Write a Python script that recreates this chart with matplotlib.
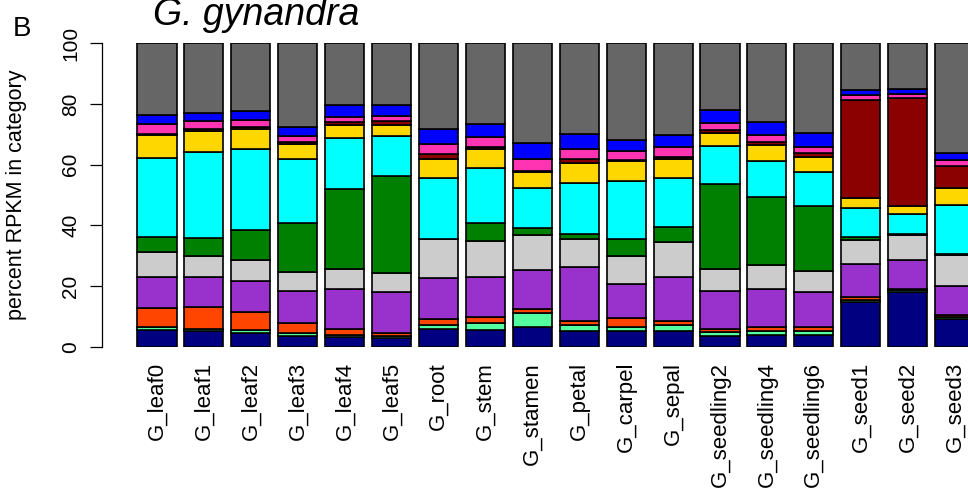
import matplotlib
matplotlib.use("Agg")
import matplotlib.pyplot as plt
import numpy as np

plt.rcParams["font.family"] = ["Liberation Sans", "DejaVu Sans"]

samples = ["G_leaf0", "G_leaf1", "G_leaf2", "G_leaf3", "G_leaf4", "G_leaf5",
           "G_root", "G_stem", "G_stamen", "G_petal", "G_carpel", "G_sepal",
           "G_seedling2", "G_seedling4", "G_seedling6", "G_seed1", "G_seed2", "G_seed3"]

# percent of RPKM per functional category, stacked bottom -> top
cat01 = [5.5, 5.1, 4.6, 3.4, 3.2, 2.9, 5.9, 5.5, 6.6, 5.3, 5.1, 5.1, 3.4, 4.0, 4.0, 14.6, 18.0, 9.2]
cat02 = [0.9, 0.7, 0.8, 1.0, 0.8, 0.7, 1.4, 2.3, 4.4, 2.0, 1.4, 1.9, 1.4, 1.3, 1.3, 0.7, 0.6, 0.5]
cat03 = [6.3, 7.4, 5.9, 3.4, 1.7, 0.8, 1.9, 2.0, 1.3, 1.3, 3.0, 1.4, 0.9, 1.3, 1.3, 1.0, 0.5, 0.6]
cat04 = [10.4, 9.8, 10.5, 10.7, 13.3, 13.6, 13.4, 13.3, 13.1, 17.7, 11.3, 14.7, 12.8, 12.3, 11.3, 11.0, 9.5, 9.8]
cat05 = [8.2, 6.9, 6.9, 6.0, 6.5, 6.4, 12.8, 11.6, 11.5, 9.3, 9.0, 11.5, 7.1, 7.9, 7.2, 7.9, 8.1, 10.2]
cat06 = [4.9, 5.9, 9.8, 16.4, 26.6, 31.9, 0.2, 6.1, 2.2, 1.5, 5.8, 4.9, 28.1, 22.5, 21.2, 1.0, 0.6, 0.4]
cat07 = [26.0, 28.4, 26.6, 20.9, 16.7, 13.2, 19.9, 18.0, 13.2, 17.0, 18.9, 16.2, 12.3, 12.0, 11.3, 9.5, 6.4, 16.1]
cat08 = [7.5, 7.0, 6.5, 5.0, 4.4, 3.5, 6.5, 6.5, 5.3, 6.4, 6.8, 6.1, 4.5, 5.3, 5.0, 3.3, 2.8, 5.5]
cat09 = [0.5, 0.6, 0.7, 0.8, 0.9, 1.3, 1.4, 0.6, 0.2, 1.5, 0.2, 0.6, 0.8, 0.8, 1.2, 32.3, 35.5, 7.4]
cat10 = [3.2, 2.5, 2.5, 1.9, 1.7, 1.6, 3.3, 3.3, 4.2, 3.3, 3.1, 3.3, 2.4, 2.3, 2.1, 1.6, 1.4, 1.7]
cat11 = [3.0, 2.8, 2.8, 2.9, 3.7, 3.9, 5.2, 4.3, 5.3, 4.8, 3.4, 4.2, 4.2, 4.4, 4.5, 1.8, 1.7, 2.3]
cat12 = [23.6, 22.9, 22.4, 27.6, 20.5, 20.2, 28.1, 26.5, 32.7, 29.9, 32.0, 30.1, 22.1, 25.9, 29.6, 15.3, 14.9, 36.3]

series = [cat01, cat02, cat03, cat04, cat05, cat06, cat07, cat08, cat09, cat10, cat11, cat12]
colors = ["#000080", "#54FF9F", "#FF4500", "#9932CC", "#CCCCCC", "#008000",
          "#00FFFF", "#FFD700", "#8B0000", "#FF34B3", "#0000FF", "#666666"]

W, H = 968, 495
fig = plt.figure(figsize=(W / 100, H / 100), dpi=100)

# R-style barplot coordinates: width 1, gap 0.2
x0_px, px_per_unit = 129.6, 39.1
y0_px, y100_px = 346.7, 43.3
ax = fig.add_axes([x0_px / W, (H - y0_px) / H, 21.6 * px_per_unit / W, (y0_px - y100_px) / H])

n = len(samples)
centers = 0.7 + 1.2 * np.arange(n)
bottom = np.zeros(n)
for vals, col in zip(series, colors):
    v = np.array(vals)
    ax.bar(centers, v, width=1.0, bottom=bottom, color=col,
           edgecolor="black", linewidth=1.2)
    bottom += v

ax.set_xlim(0, 21.6)
ax.set_ylim(0, 100)

for s in ["top", "right", "bottom"]:
    ax.spines[s].set_visible(False)
ax.spines["left"].set_position(("outward", 20))
ax.spines["left"].set_bounds(0, 100)
ax.spines["left"].set_linewidth(0.9)

ax.set_yticks([0, 20, 40, 60, 80, 100])
ax.set_yticklabels(["0", "20", "40", "60", "80", "100"], rotation=90,
                   va="center", fontsize=15)
ax.tick_params(axis="y", length=8.5, width=0.9, pad=7)

ax.set_xticks(centers)
ax.set_xticklabels(samples, rotation=90, fontsize=16, va="top", ha="center")
ax.tick_params(axis="x", length=0, pad=11)

fig.text(17 / W, 1 - 195 / H, "percent RPKM in category", rotation=90,
         ha="center", va="center", fontsize=15.5)
fig.text(13 / W, 1 - 36 / H, "B", ha="left", va="baseline", fontsize=20)
fig.text(256 / W, 1 - 25 / H, "G. gynandra", ha="center", va="baseline",
         fontsize=27, style="italic")

fig.savefig("out.png", dpi=100)
